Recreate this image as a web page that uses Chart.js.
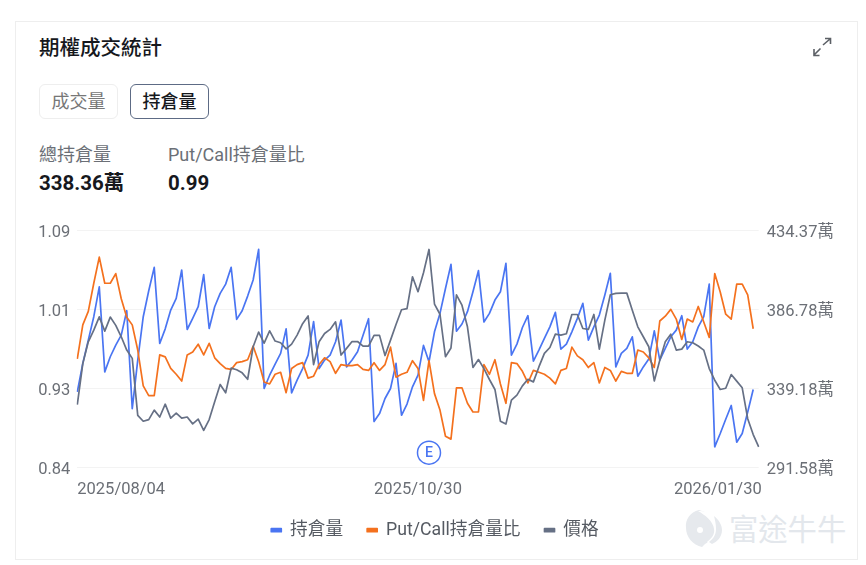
<!DOCTYPE html>
<html lang="zh-Hant"><head><meta charset="utf-8">
<script src="https://cdn.jsdelivr.net/npm/chart.js@4"></script>
<style>
html,body{margin:0;padding:0;background:#fff;width:866px;height:565px;overflow:hidden}
body{font-family:Roboto,"Noto Sans CJK TC",sans-serif;position:relative}
#card{position:absolute;left:15px;top:21px;width:841px;height:537px;border:1px solid #eeeeee}
.t{position:absolute;white-space:nowrap;line-height:1}
.btn{position:absolute;top:84px;width:77px;height:33px;border-radius:6px;text-align:center;line-height:33px;font-size:18px;box-sizing:content-box}
canvas{position:absolute;left:0;top:0}
</style></head><body>
<div id="card"></div>
<div class="t" style="left:39px;top:38px;font-size:20.5px;font-weight:500;color:#16181d">期權成交統計</div>
<svg style="position:absolute;left:811px;top:37px" width="22" height="20" viewBox="0 0 22 20"><g fill="none" stroke="#5c6066" stroke-width="1.6"><path d="M12 8L19 2M14 1.5H19.5V7"/><path d="M9.5 11.5L3 18M3 12V18.5H8.5"/></g></svg>
<div class="btn" style="left:39px;border:1px solid #eeeeee;color:#777">成交量</div>
<div class="btn" style="left:130px;border:1px solid #5d6b85;color:#16181d;font-weight:500">持倉量</div>
<div class="t" style="left:39px;top:146px;font-size:18px;color:#6b6f76">總持倉量</div>
<div class="t" style="left:168px;top:146px;font-size:18px;color:#6b6f76">Put/Call持倉量比</div>
<div class="t" style="left:39px;top:173px;font-size:20.5px;font-weight:700;color:#16181d">338.36萬</div>
<div class="t" style="left:168px;top:173px;font-size:20.5px;font-weight:700;color:#16181d">0.99</div>
<svg style="position:absolute;left:685px;top:509px" width="38" height="40" viewBox="0 0 38 40"><path d="M14 1C5 3 0 11 1 19C1 28 8 36 17 38L20 35C23 33 30 30 33 23C36 14 26 4 14 1Z" fill="#e6e9ed"/><path d="M13 2C20 6 28 12 29 20C30 25 27 29 22 33L25 36C31 34 36 27 36 19C36 10 26 2 13 2Z" fill="#fff"/><path d="M29 7C34 11 37 16 37 21C37 28 32 33 27 35L24 33C28 30 31 26 31 20C31 15 30 11 29 7Z" fill="#e6e9ed"/><circle cx="15" cy="21" r="3" fill="#fff"/></svg>
<div class="t" style="left:729px;top:516px;font-size:29.3px;color:#e3e7ec">富途牛牛</div>
<canvas id="c" width="866" height="565"></canvas>
<script>
const tickDates = ['2025/08/04', '2025/10/30', '2026/01/30'];
const tickIndexes = [0, 62, 124];
const earningsIndex = 64;
const seriesNames = ['持倉量', 'Put/Call持倉量比', '價格'];
const openInterest = [
337.0,354.1,368.1,382.2,400.2,349.0,358.1,365.1,371.1,385.8,326.9,356.1,382.2,397.8,411.9,366.1,374.9,386.2,393.2,410.3,
374.5,381.2,388.2,407.5,375.1,388.2,396.2,401.8,411.9,380.6,385.8,394.6,404.3,422.7,339.0,347.0,353.6,360.1,374.9,336.4,
344.0,351.0,359.1,379.2,351.0,356.1,359.1,367.1,380.2,352.0,356.1,361.1,371.1,381.0,319.1,323.9,333.0,339.0,354.1,322.9,
329.6,340.0,347.0,364.9,355.1,373.1,384.2,399.2,413.7,373.5,377.8,385.2,397.2,409.9,379.0,384.2,392.2,397.2,414.3,359.1,
365.7,375.7,382.8,355.5,362.1,369.1,376.1,384.8,362.7,365.7,373.1,381.2,390.2,368.1,376.1,383.2,395.2,408.3,352.0,360.1,
363.1,370.1,346.4,352.0,356.7,373.7,356.1,363.1,370.1,374.1,382.8,362.7,367.1,376.1,382.2,401.8,303.9,311.9,320.5,328.8,
306.7,311.9,324.9,338.36];
const putCallRatio = [
.957,.992,1.006,1.035,1.062,1.035,1.035,1.045,1.019,1.000,.992,.966,.929,.919,.919,.961,.959,.947,.941,.934,
.961,.964,.972,.961,.973,.958,.952,.947,.946,.953,.954,.956,.970,.954,.933,.931,.941,.943,.922,.947,
.951,.953,.937,.939,.951,.958,.954,.942,.951,.950,.950,.951,.946,.945,.953,.945,.951,.969,.938,.941,
.943,.955,.947,.914,.955,.921,.904,.877,.874,.927,.927,.911,.902,.902,.951,.941,.956,.931,.911,.953,
.952,.944,.932,.945,.943,.941,.937,.931,.945,.947,.969,.960,.956,.948,.953,.932,.948,.945,.934,.944,
.942,.942,.966,.964,.958,.948,.996,1.001,1.008,.998,.977,.998,.995,1.011,.995,.979,1.045,1.026,1.003,.998,
1.034,1.034,1.023,.988];
const priceLevel = [
26.4,43.7,52.9,57.8,63.4,57.4,63.3,59.8,55.0,49.4,45.9,21.9,19.4,20.1,24.1,21.2,26.6,20.7,22.8,20.7,
21.2,18.3,20.3,15.6,20.1,27.6,34.9,31.4,41.8,41.1,39.8,37.1,50.8,57.0,52.3,57.5,53.2,52.5,49.9,51.9,
55.7,60.5,63.8,43.3,52.9,56.4,58.1,61.3,47.3,50.1,53.0,53.0,51.1,51.1,55.6,55.6,47.1,53.6,60.2,66.4,
66.9,80.3,74.0,82.0,91.8,68.8,64.5,46.6,50.3,72.7,68.3,59.2,42.1,45.4,41.6,37.0,32.8,19.4,18.2,28.3,
30.4,34.3,37.1,36.0,42.3,48.0,50.5,56.1,55.7,56.3,64.4,64.4,58.5,58.1,64.4,49.8,62.0,72.7,73.3,73.4,
73.4,66.2,59.2,55.0,50.8,36.4,45.1,52.9,56.1,49.4,49.8,52.9,52.5,51.1,49.4,41.6,36.7,32.8,33.3,39.1,
36.3,33.5,20.5,13.8,8.6];
const categories = priceLevel.map((_, i) => i);
const FONT = 'Roboto, "Noto Sans CJK TC", sans-serif';
const BLUE = '#4a75f2', ORANGE = '#f4711e', GRAY = '#667085';

const earningsMark = {
  id: 'earningsMark',
  afterDatasetsDraw(chart) {
    const x = chart.scales.x.getPixelForValue(earningsIndex);
    const y = chart.scales.yL.getPixelForValue(0.86);
    const g = chart.ctx;
    g.save();
    g.beginPath(); g.arc(x, y, 11.5, 0, Math.PI * 2);
    g.fillStyle = '#fff'; g.fill();
    g.lineWidth = 1.5; g.strokeStyle = BLUE; g.stroke();
    g.fillStyle = BLUE; g.font = '500 14px ' + FONT;
    g.textAlign = 'center'; g.textBaseline = 'middle';
    g.fillText('E', x, y + 0.5);
    g.restore();
  }
};
// nudges the library's own tick labels by a small offset, as the reference does
const nudgeLabels = (scale, shift) => {
  if (scale.$nudged) return;
  scale.$nudged = true;
  const compute = scale._computeLabelItems;
  scale._computeLabelItems = function (area) {
    const items = compute.call(this, area);
    items.forEach((item, i) => {
      const [dx, dy] = shift(i, items.length);
      item.options.translation = [item.options.translation[0] + dx, item.options.translation[1] + dy];
    });
    return items;
  };
};
const line = (label, data, color, yAxisID, order) => ({
  label, data, yAxisID, order, borderColor: color, backgroundColor: color,
  borderWidth: 1.7, pointRadius: 0, tension: 0, borderJoinStyle: 'round'
});
new Chart(document.getElementById('c'), {
  type: 'line',
  data: {
    labels: categories,
    datasets: [
      line(seriesNames[0], openInterest, BLUE, 'yR', 3),
      line(seriesNames[1], putCallRatio, ORANGE, 'yL', 2),
      line(seriesNames[2], priceLevel, GRAY, 'yP', 1)
    ]
  },
  plugins: [earningsMark],
  options: {
    responsive: false, animation: false,
    layout: { padding: { top: 230, bottom: 16, left: 4, right: 0 } },
    plugins: {
      tooltip: { enabled: false },
      legend: {
        position: 'bottom',
        labels: {
          boxWidth: 10, boxHeight: 3, padding: 24, color: '#555a62', font: { family: FONT, size: 17.7 },
          sort: (a, b) => a.datasetIndex - b.datasetIndex
        }
      }
    },
    scales: {
      x: {
        grid: { display: false, drawTicks: false }, border: { display: false },
        afterBuildTicks: s => { s.ticks = s.ticks.filter(t => tickIndexes.includes(t.value)); },
        afterFit: s => { s.height = 30; nudgeLabels(s, (i, n) => [i === n - 1 ? 3 : 0, 0]); },
        ticks: {
          autoSkip: false, maxRotation: 0, align: 'inner', padding: 13, color: '#6b6f76',
          font: { family: FONT, size: 16.5 },
          callback: v => tickDates[tickIndexes.indexOf(v)]
        }
      },
      yL: {
        position: 'left', min: 0.8449, max: 1.09,
        afterFit: s => { s.width = 73.3; nudgeLabels(s, () => [0, 2.5]); },
        grid: { color: '#f3f3f3', lineWidth: 1, drawTicks: false }, border: { display: false },
        ticks: { count: 4, padding: 7, color: '#6b6f76', font: { family: FONT, size: 16.5 }, callback: v => v.toFixed(2) }
      },
      yR: {
        position: 'right', min: 291.58, max: 434.374,
        afterFit: s => { s.width = 107.3; nudgeLabels(s, () => [0, 2.5]); },
        grid: { display: false, drawTicks: false }, border: { display: false },
        ticks: { count: 4, padding: 8, color: '#6b6f76', font: { family: FONT, size: 16.5 }, callback: v => v.toFixed(2) + '萬' }
      },
      yP: { display: false, min: 0, max: 100 }
    }
  }
});
</script></body></html>
